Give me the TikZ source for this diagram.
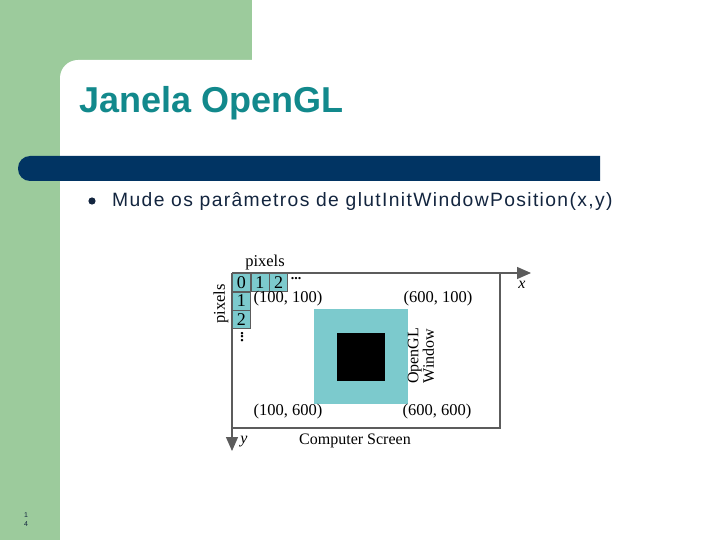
\documentclass[tikz,border=0pt]{standalone}
\usepackage{fontspec}
\setmainfont{Liberation Serif}
\newfontfamily\slidefont{Liberation Sans}
\newfontfamily\itemfont[LetterSpace=7]{Liberation Sans}
\usetikzlibrary{arrows.meta}

\definecolor{sidegreen}{HTML}{9CCB9C}
\definecolor{titleteal}{HTML}{12898C}
\definecolor{barnavy}{HTML}{013463}
\definecolor{textnavy}{HTML}{13253F}
\definecolor{wincyan}{HTML}{7CCACD}
\definecolor{axisgray}{HTML}{5C5C5C}

\tikzset{
  cell/.style={draw=axisgray, line width=0.6pt, fill=wincyan, minimum width=18pt,
    minimum height=18pt, inner sep=0pt, font=\fontsize{18}{18}\selectfont},
  lbl/.style={inner sep=0pt, font=\fontsize{16.5}{18}\selectfont},
  axis/.style={draw=axisgray, line width=1.3pt,
    -{Triangle[length=14pt,width=12pt]}},
}

\begin{document}
\begin{tikzpicture}[x=1pt, y=-1pt]
  \useasboundingbox (0,0) rectangle (720,540);
  % Fond du slide
  \fill[white] (0,0) rectangle (720,540);
  \fill[sidegreen] (0,0) rectangle (252,90);
  \fill[sidegreen] (0,0) rectangle (60,540);
  \fill[white, rounded corners=18] (60,60) rectangle (760,580);
  % Titre
  \node[anchor=west, inner sep=0pt, text=titleteal,
    font=\slidefont\bfseries\fontsize{36}{40}\selectfont] (title) at (79,103) {Janela OpenGL};
  \fill[barnavy] (600,156) [rounded corners=12] -- (18,156) -- (18,181)
    [sharp corners] -- (600,181) -- cycle;
  % Item
  \fill[textnavy] (92,201) circle (3.6);
  \node[anchor=west, inner sep=0pt, text=textnavy,
    font=\itemfont\fontsize{19.3}{24}\selectfont] (item) at (112,201)
    {Mude os parâmetros de glutInitWindowPosition(x,y)};
  % Numero
  \node[inner sep=0pt, text=textnavy, align=center,
    font=\slidefont\fontsize{7}{9}\selectfont] (pagenum) at (26,520) {1\\4};

  % Ecran
  \coordinate (origin) at (232,273);
  \coordinate (xend) at (531,273);
  \coordinate (yend) at (232,451);
  \draw[axisgray, line width=1.3pt] (origin) -| (500,428) -- (232,428);
  \draw[axis] (origin) -- (xend);
  \draw[axis] (origin) -- (yend);
  \node[lbl, font=\itshape\fontsize{16}{18}\selectfont] (xlbl) at (522,285) {x};
  \node[lbl, font=\itshape\fontsize{16}{18}\selectfont] (ylbl) at (244,442) {y};
  % Fenetre OpenGL
  \fill[wincyan] (314,309) rectangle (408,404);
  \fill[black] (337,333) rectangle (385,381);
  \node[lbl, rotate=90, align=center, font=\fontsize{16}{13.5}\selectfont] (winlbl)
    at (421,356) {OpenGL\\Window};
  % Pixels
  \node[cell, anchor=north west] (c00) at (origin) {0};
  \node[cell, anchor=west] (c01) at (c00.east) {1};
  \node[cell, anchor=west] (c02) at (c01.east) {2};
  \node[cell, anchor=north] (c10) at (c00.south) {1};
  \node[cell, anchor=north] (c20) at (c10.south) {2};
  \node[lbl, font=\bfseries\fontsize{14}{14}\selectfont] (hdots) at (296,279) {...};
  \node[lbl, rotate=90, font=\bfseries\fontsize{15}{15}\selectfont] (vdots) at (242,337) {...};
  \node[lbl] (pixtop) at (265,263) {pixels};
  \node[lbl, rotate=90] (pixleft) at (221,304) {pixels};
  % Coins
  \node[lbl] (p11) at (288,299) {(100, 100)};
  \node[lbl] (p61) at (438,299) {(600, 100)};
  \node[lbl] (p16) at (288,412) {(100, 600)};
  \node[lbl] (p66) at (437,412) {(600, 600)};
  \node[lbl, font=\fontsize{16}{18}\selectfont] (screen) at (355,441) {Computer Screen};
\end{tikzpicture}
\end{document}
